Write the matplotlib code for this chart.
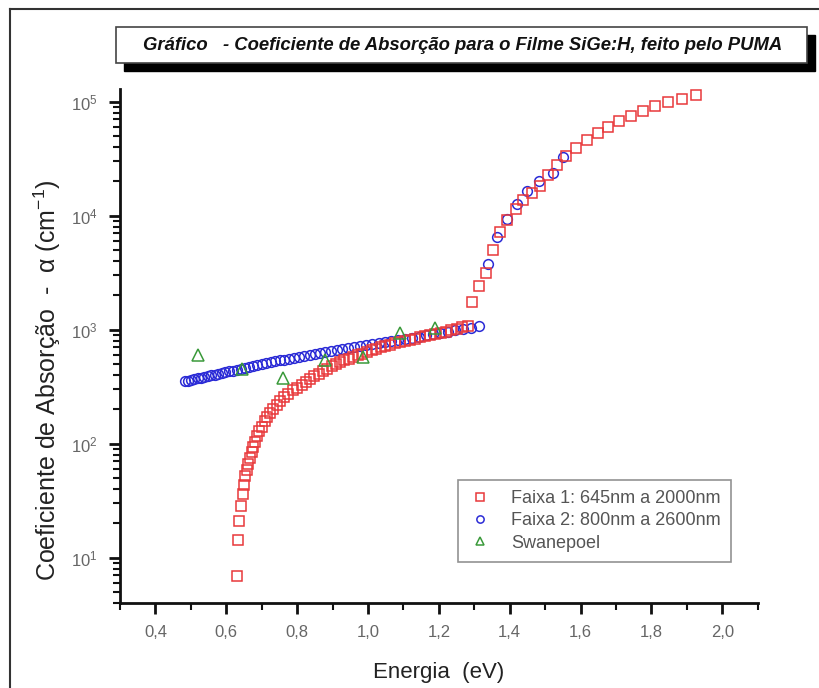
import math
import matplotlib
matplotlib.use("Agg")
import matplotlib.pyplot as plt
from matplotlib.lines import Line2D
from matplotlib.patches import Rectangle
from matplotlib.ticker import LogLocator, MultipleLocator, FuncFormatter

plt.rcParams['font.family'] = ['Liberation Sans', 'DejaVu Sans']
plt.rcParams['mathtext.fontset'] = 'custom'
plt.rcParams['mathtext.rm'] = 'Liberation Sans'
plt.rcParams['mathtext.it'] = 'Liberation Sans:italic'

# Faixa 1: 645nm a 2000nm
faixa1_e = [0.629, 0.632, 0.637, 0.641, 0.646, 0.650, 0.654, 0.658, 0.662, 0.667,
            0.672, 0.676, 0.681, 0.688, 0.693, 0.701, 0.708, 0.716, 0.723, 0.733,
            0.742, 0.752, 0.763, 0.775, 0.789, 0.801, 0.813, 0.825, 0.837, 0.849,
            0.861, 0.873, 0.885, 0.897, 0.909, 0.921, 0.933, 0.945, 0.958, 0.971,
            0.984, 0.997, 1.010, 1.023, 1.036, 1.049, 1.062, 1.076, 1.090, 1.104,
            1.118, 1.132, 1.146, 1.160, 1.175, 1.190, 1.205, 1.220, 1.235, 1.250,
            1.265, 1.281, 1.294, 1.313, 1.332, 1.354, 1.373, 1.393, 1.417, 1.438,
            1.462, 1.485, 1.509, 1.534, 1.559, 1.587, 1.617, 1.648, 1.677, 1.709,
            1.741, 1.775, 1.810, 1.848, 1.885, 1.926]
faixa1_a = [6.9, 14.2, 21, 28.6, 36.4, 43.1, 51.7, 59, 66.6, 74.6,
            83.6, 93.5, 104, 115.7, 128, 141, 157, 171, 186, 202,
            220, 235, 254, 274, 297, 305, 325, 345, 366, 388,
            410, 432, 455, 476, 497, 517, 537, 556, 576, 597,
            617, 637, 657, 677, 697, 717, 737, 757, 776, 796,
            815, 834, 853, 872, 893, 915, 938, 962, 990, 1020,
            1050, 1085, 1740, 2400, 3140, 5000, 7140, 9220, 11450, 13620,
            15800, 18300, 22900, 28000, 33100, 39200, 45700, 53100, 59500, 67200,
            75300, 82200, 90900, 98700, 106000, 115000]

# Faixa 2: 800nm a 2600nm
faixa2_e = [0.483, 0.492, 0.501, 0.510, 0.519, 0.528, 0.537, 0.547, 0.557, 0.567,
            0.577, 0.587, 0.597, 0.608, 0.619, 0.630, 0.641, 0.652, 0.664, 0.676,
            0.688, 0.700, 0.712, 0.725, 0.738, 0.751, 0.764, 0.778, 0.792, 0.806,
            0.820, 0.835, 0.850, 0.865, 0.880, 0.896, 0.912, 0.928, 0.944, 0.961,
            0.978, 0.995, 1.012, 1.030, 1.048, 1.066, 1.085, 1.104, 1.123, 1.143,
            1.163, 1.183, 1.204, 1.225, 1.246, 1.268, 1.290, 1.314, 1.340, 1.365,
            1.393, 1.420, 1.448, 1.484, 1.521, 1.551]
faixa2_a = [352, 357, 362, 368, 373, 379, 384, 390, 396, 403,
            409, 416, 423, 430, 437, 445, 453, 460, 470, 479,
            488, 497, 506, 515, 526, 536, 546, 557, 568, 578,
            589, 600, 611, 622, 634, 646, 658, 670, 684, 698,
            713, 728, 743, 759, 774, 792, 811, 830, 849, 869,
            889, 912, 935, 959, 984, 1012, 1042, 1085, 3800, 6500,
            9400, 12700, 16600, 20300, 23700, 32400]

# Swanepoel
swan_e = [0.521, 0.643, 0.759, 0.879, 0.986, 1.090, 1.189]
swan_a = [602, 452, 377, 546, 580, 942, 1040]

W, H = 820, 688
fig = plt.figure(figsize=(W / 100, H / 100), dpi=100)
ax = fig.add_axes([120 / W, 1 - 603 / H, (757.7 - 120) / W, (603 - 89) / H])

ax.plot(faixa1_e, faixa1_a, ls='none', marker='s', ms=7, mfc='none', mec='#e8383a',
        mew=1.1, label='Faixa 1: 645nm a 2000nm', zorder=3)
ax.plot(faixa2_e, faixa2_a, ls='none', marker='o', ms=7, mfc='none', mec='#2b2bd6',
        mew=1.1, label='Faixa 2: 800nm a 2600nm', zorder=2)
ax.plot(swan_e, swan_a, ls='none', marker='^', ms=8.5, mfc='none', mec='#3a9a3a',
        mew=1.1, label='Swanepoel', zorder=4)

ax.set_yscale('log')
ax.set_xlim(0.3, 2.1)
ax.set_ylim(4.0, 1.29e5)

ax.xaxis.set_major_locator(MultipleLocator(0.2))
ax.xaxis.set_minor_locator(MultipleLocator(0.1))
ax.xaxis.set_major_formatter(FuncFormatter(lambda v, p: f"{v:.1f}".replace('.', ',')))
ax.yaxis.set_major_locator(LogLocator(base=10, numticks=10))
ax.yaxis.set_minor_locator(LogLocator(base=10, subs=range(2, 10), numticks=10))
ax.yaxis.set_major_formatter(FuncFormatter(lambda v, p: r"$10^{%d}$" % round(math.log10(v))))

for s in ['top', 'right']:
    ax.spines[s].set_visible(False)
for s in ['left', 'bottom']:
    ax.spines[s].set_linewidth(2)
    ax.spines[s].set_color('#111111')

ax.tick_params(which='major', direction='out', length=8, width=2, color='#111111',
               labelsize=12, labelcolor='#666666', pad=8)
ax.tick_params(which='minor', direction='out', length=5, width=1.5, color='#111111')

ax.set_xlabel('Energia  (eV)', fontsize=16, color='#222222', labelpad=16)
fig.text(47 / W, 1 - 380 / H, 'Coeficiente de Absorção  -  α (cm$^{-1}$)', rotation=90,
         fontsize=18, color='#222222', ha='center', va='center')

leg = ax.legend(loc='upper left', bbox_to_anchor=((458 - 120) / (757.7 - 120), (603 - 480) / (603 - 89)),
                frameon=True, fancybox=False, edgecolor='#777777', fontsize=13,
                markerscale=0.75, handletextpad=1.1, handlelength=1.3, borderpad=0.55,
                labelspacing=0.3, borderaxespad=0)
leg.get_frame().set_linewidth(1.2)
for t in leg.get_texts():
    t.set_color('#555555')

# title box with shadow
fig.patches.append(Rectangle((124 / W, 1 - 71 / H), (807 - 116) / W, (63 - 27) / H,
                             transform=fig.transFigure, facecolor='black', edgecolor='black'))
fig.patches.append(Rectangle((116 / W, 1 - 63 / H), (807 - 116) / W, (63 - 27) / H,
                             transform=fig.transFigure, facecolor='white', edgecolor='#444444', lw=1.2))
fig.text(463 / W, 1 - 45 / H, 'Gráfico   - Coeficiente de Absorção para o Filme SiGe:H, feito pelo PUMA',
         ha='center', va='center', fontsize=13.3, style='italic', weight='bold', color='#111111')

# outer frame
fig.lines.append(Line2D([10 / W, 10 / W], [0, 1 - 9 / H], transform=fig.transFigure, color='#333333', lw=1.5))
fig.lines.append(Line2D([10 / W, 1], [1 - 9 / H, 1 - 9 / H], transform=fig.transFigure, color='#333333', lw=1.5))

fig.savefig('out.png', dpi=100)
